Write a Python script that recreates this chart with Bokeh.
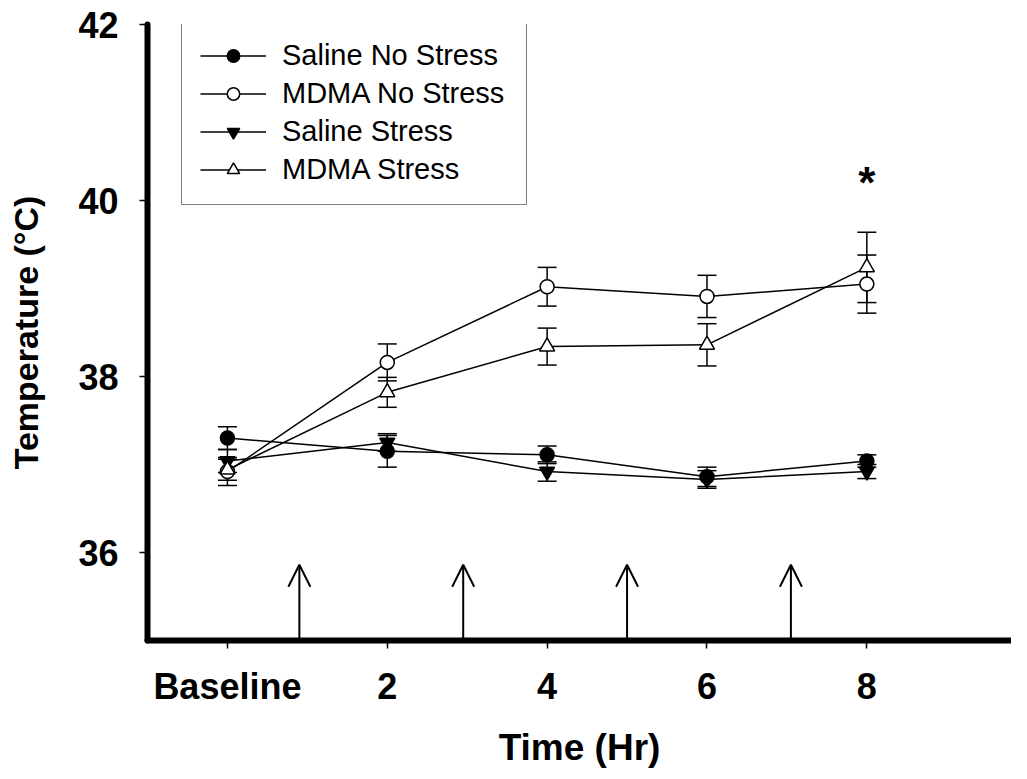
from bokeh.plotting import figure
from bokeh.models import (ColumnDataSource, Whisker, TeeHead, Arrow, OpenHead,
                          Legend, LegendItem, Range1d, FixedTicker)
from bokeh.core.properties import value
from bokeh.embed import file_html
from bokeh.resources import INLINE

# ---------------- data ----------------
hours = [0, 2, 4, 6, 8]
tick_labels = ["Baseline", "2", "4", "6", "8"]
y_ticks = [36, 38, 40, 42]

saline_ns = [37.30, 37.15, 37.11, 36.86, 37.04]
saline_ns_sem = [0.13, 0.18, 0.10, 0.11, 0.07]
mdma_ns = [36.92, 38.16, 39.02, 38.91, 39.05]
mdma_ns_sem = [0.16, 0.21, 0.22, 0.24, 0.33]
saline_s = [37.04, 37.25, 36.92, 36.83, 36.92]
saline_s_sem = [0.13, 0.10, 0.11, 0.10, 0.08]
mdma_s = [36.94, 37.82, 38.34, 38.36, 39.24]
mdma_s_sem = [0.12, 0.17, 0.21, 0.24, 0.40]

arrow_x = [0.9, 2.95, 5.0, 7.05]
arrow_base = [35.0, 35.0, 35.0, 35.0]
arrow_tip = [35.86, 35.86, 35.86, 35.86]

sig_x = [8]
sig_y = [40.2]
sig_text = ["*"]

series = [
    ("Saline No Stress", saline_ns, saline_ns_sem, "circle", "black", 14),
    ("MDMA No Stress", mdma_ns, mdma_ns_sem, "circle", "white", 14),
    ("Saline Stress", saline_s, saline_s_sem, "inverted_triangle", "black", 15),
    ("MDMA Stress", mdma_s, mdma_s_sem, "triangle", "white", 15),
]

FONT = "Liberation Sans"

p = figure(width=1011, height=771, output_backend="svg", toolbar_location=None,
           x_range=Range1d(-1, 9.81), y_range=Range1d(35, 42),
           min_border_left=147, min_border_right=0, min_border_top=24,
           min_border_bottom=131, background_fill_color="white",
           border_fill_color="white")
p.xgrid.visible = False
p.ygrid.visible = False
p.outline_line_color = None

# axes
for ax in (p.xaxis[0], p.yaxis[0]):
    ax.axis_line_width = 6
    ax.axis_line_color = "black"
    ax.axis_line_cap = "round"
    ax.major_tick_line_width = 1.5
    ax.major_tick_line_color = "black"
    ax.major_tick_in = 0
    ax.major_tick_out = 8
    ax.minor_tick_line_color = None
    ax.major_label_text_font = FONT
    ax.major_label_text_font_style = "bold"
    ax.major_label_text_font_size = "36px"
    ax.major_label_text_color = "black"
    ax.axis_label_text_font = FONT
    ax.axis_label_text_font_style = "bold"
    ax.axis_label_text_color = "black"

p.xaxis.ticker = FixedTicker(ticks=hours)
p.xaxis.major_label_overrides = {h: lab for h, lab in zip(hours, tick_labels)}
p.xaxis.axis_label = "Time (Hr)"
p.xaxis.axis_label_text_font_size = "37px"
p.xaxis.major_label_standoff = 17
p.xaxis.axis_label_standoff = 17

p.yaxis.ticker = FixedTicker(ticks=y_ticks)
p.yaxis.axis_label = "Temperature (°C)"
p.yaxis.axis_label_text_font_size = "34px"
p.yaxis.major_label_standoff = 21
p.yaxis.axis_label_standoff = 30

# data series
items = []
for name, vals, sem, marker, fill, size in series:
    src = ColumnDataSource(dict(
        x=hours, y=vals,
        upper=[v + s for v, s in zip(vals, sem)],
        lower=[v - s for v, s in zip(vals, sem)],
    ))
    w = Whisker(base="x", upper="upper", lower="lower", source=src,
                line_color="black", line_width=1.5, level="underlay",
                upper_head=TeeHead(size=19, line_width=1.5, line_color="black"),
                lower_head=TeeHead(size=19, line_width=1.5, line_color="black"))
    p.add_layout(w)
    lr = p.line("x", "y", source=src, line_color="black", line_width=1.5)
    sr = p.scatter("x", "y", source=src, marker=marker, size=size,
                   fill_color=fill, line_color="black", line_width=1.5)
    items.append(LegendItem(label=name, renderers=[lr, sr]))

# treatment arrows
arr_src = ColumnDataSource(dict(x0=arrow_x, y0=arrow_base, x1=arrow_x, y1=arrow_tip))
p.add_layout(Arrow(x_start="x0", y_start="y0", x_end="x1", y_end="y1",
                   source=arr_src, line_color="black", line_width=2,
                   end=OpenHead(size=22, line_width=2, line_color="black")))

# significance marker
p.text(x=sig_x, y=sig_y, text=sig_text, text_font=value(FONT),
       text_font_style="bold", text_font_size="44px", text_align="center",
       text_baseline="alphabetic", text_color="black")

legend = Legend(items=items, location=(34, 435),
                label_text_font=FONT, label_text_font_size="29px",
                label_text_color="black", label_height=31, glyph_height=31,
                glyph_width=66, label_standoff=16, label_width=226,
                spacing=5, padding=18, margin=0,
                border_line_color="black", border_line_width=1.5,
                background_fill_color="white", background_fill_alpha=1.0)
p.add_layout(legend, "center")

open("out.html", "w").write(file_html(p, INLINE))
